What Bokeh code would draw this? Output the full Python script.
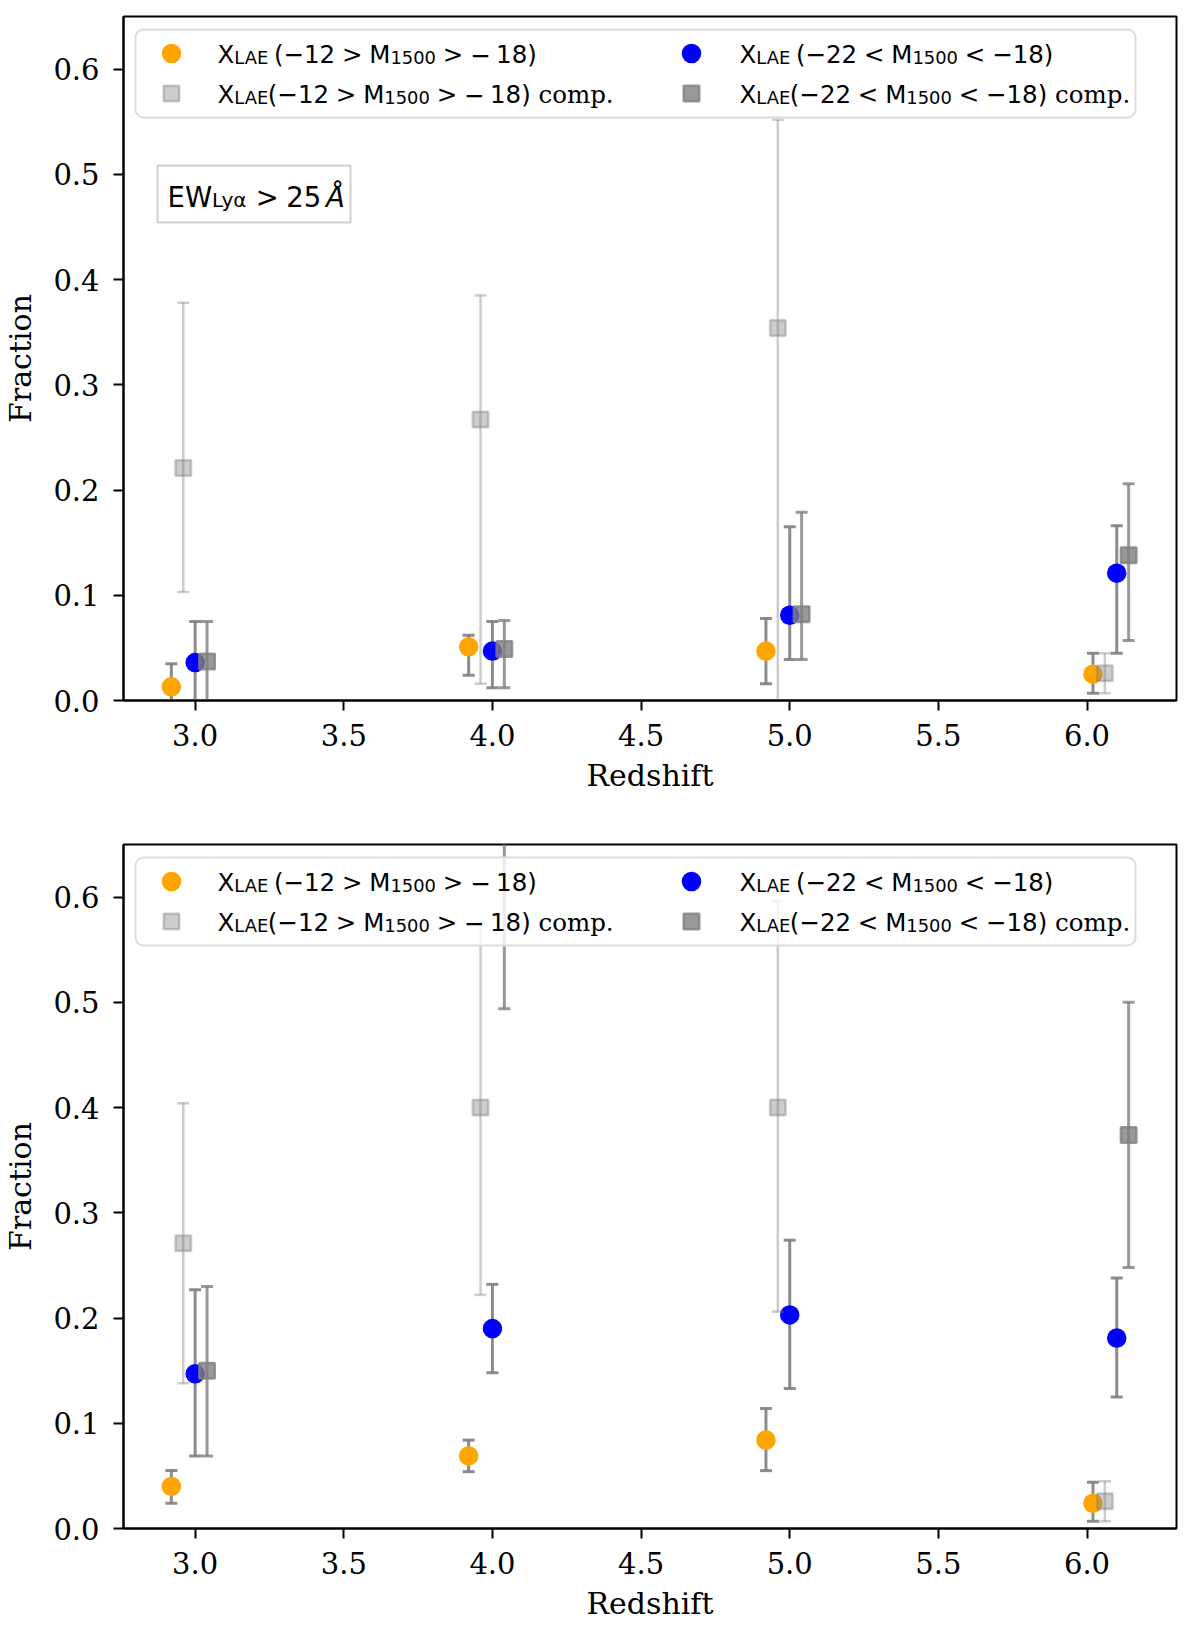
from bokeh.plotting import figure
from bokeh.layouts import column
from bokeh.models import FixedTicker, NumeralTickFormatter
from bokeh.core.properties import value
from bokeh.embed import file_html
from bokeh.resources import INLINE

# ---------------- data ----------------
x_ticks = [3.0, 3.5, 4.0, 4.5, 5.0, 5.5, 6.0]
y_ticks = [0.0, 0.1, 0.2, 0.3, 0.4, 0.5, 0.6]

# redshift positions (slightly offset per series)
z_faint = [2.92, 3.92, 4.92, 6.02]
z_faint_comp = [2.96, 3.96, 4.96, 6.06]
z_bright = [3.00, 4.00, 5.00, 6.10]
z_bright_comp = [3.04, 4.04, 5.04, 6.14]

# top panel (EW > 25 A)
top_faint = [0.013, 0.051, 0.047, 0.025]
top_faint_lo = [0.000, 0.024, 0.016, 0.007]
top_faint_hi = [0.035, 0.062, 0.078, 0.045]
top_bright = [0.036, 0.047, 0.081, 0.121]
top_bright_lo = [0.000, 0.012, 0.039, 0.045]
top_bright_hi = [0.075, 0.075, 0.165, 0.166]
top_faint_comp = [0.221, 0.267, 0.354, 0.026]
top_faint_comp_lo = [0.103, 0.016, 0.000, 0.007]
top_faint_comp_hi = [0.378, 0.385, 0.552, 0.045]
top_bright_comp = [0.037, 0.049, 0.082, 0.138]
top_bright_comp_lo = [0.000, 0.012, 0.039, 0.057]
top_bright_comp_hi = [0.075, 0.076, 0.179, 0.206]

# bottom panel
bot_faint = [0.040, 0.069, 0.084, 0.024]
bot_faint_lo = [0.024, 0.054, 0.055, 0.007]
bot_faint_hi = [0.055, 0.084, 0.114, 0.044]
bot_bright = [0.147, 0.190, 0.203, 0.181]
bot_bright_lo = [0.069, 0.148, 0.133, 0.125]
bot_bright_hi = [0.227, 0.232, 0.274, 0.238]
bot_faint_comp = [0.271, 0.400, 0.400, 0.026]
bot_faint_comp_lo = [0.138, 0.222, 0.206, 0.007]
bot_faint_comp_hi = [0.404, 0.576, 0.596, 0.045]
z_bot_bright_comp = [3.04, 4.04, 6.14]
bot_bright_comp = [0.150, 0.750, 0.374]
bot_bright_comp_lo = [0.069, 0.494, 0.248]
bot_bright_comp_hi = [0.230, 0.980, 0.500]

# legend labels as (kind, text) segments: t=main, s=subscript, g=gap(em), r=serif, i=italic
leg_faint = [("t", "X"), ("s", "LAE"), ("g", 0.25), ("t", "(−12"), ("g", 0.278), ("t", ">"), ("g", 0.278),
             ("t", "M"), ("s", "1500"), ("g", 0.278), ("t", ">"), ("g", 0.278), ("t", "−"), ("g", 0.222), ("t", "18)")]
leg_faint_comp = [("t", "X"), ("s", "LAE"), ("t", "(−12"), ("g", 0.278), ("t", ">"), ("g", 0.278),
                  ("t", "M"), ("s", "1500"), ("g", 0.278), ("t", ">"), ("g", 0.278), ("t", "−"), ("g", 0.222),
                  ("t", "18)"), ("g", 0.318), ("r", "comp.")]
leg_bright = [("t", "X"), ("s", "LAE"), ("g", 0.25), ("t", "(−22"), ("g", 0.278), ("t", "<"), ("g", 0.278),
              ("t", "M"), ("s", "1500"), ("g", 0.278), ("t", "<"), ("g", 0.278), ("t", "−18)")]
leg_bright_comp = [("t", "X"), ("s", "LAE"), ("t", "(−22"), ("g", 0.278), ("t", "<"), ("g", 0.278),
                   ("t", "M"), ("s", "1500"), ("g", 0.278), ("t", "<"), ("g", 0.278), ("t", "−18)"),
                   ("g", 0.318), ("r", "comp.")]
ew_label = [("t", "EW"), ("s", "Lyα"), ("g", 0.278), ("t", ">"), ("g", 0.278), ("t", "25"), ("g", 0.167),
            ("i", "Å")]

# ---------------- layout ----------------
FW, FH = 1053, 684
X0, X1 = 2.759, 6.301
Y0, Y1 = 0.0, 0.65


def fx(px):
    return X0 + px / FW * (X1 - X0)


def fy(py):
    return Y1 - py / FH * (Y1 - Y0)


SANS = {" ": .318, "(": .390, ")": .390, ".": .318, "<": .838, ">": .838, "−": .838,
        "A": .684, "E": .632, "L": .557, "M": .863, "W": .989, "X": .686, "y": .592, "α": .640, "Å": .684}
for d in "0123456789":
    SANS[d] = .636
SERIF = {" ": .318, "c": .560, "o": .602, "m": .948, "p": .640, ".": .318}


def rich(p, x0, base, segs, fs):
    x = x0
    for kind, s in segs:
        if kind == "g":
            x += s * fs
            continue
        font, style, size, b, tab = "DejaVu Sans", "normal", fs, base, SANS
        if kind == "s":
            size = fs * 0.73
            b = base + 0.13 * fs
        elif kind == "r":
            font, tab = "DejaVu Serif", SERIF
        elif kind == "i":
            style = "italic"
        p.text(x=[fx(x)], y=[fy(b)], text=[s], text_font=value(font),
               text_font_size=value("%.1fpx" % size), text_font_style=value(style),
               text_color="black", text_align="left", text_baseline="alphabetic")
        x += sum(tab.get(ch, .6) for ch in s) * size


def box(p, l, r, t, b, line_color, radius):
    kw = dict(left=fx(l), right=fx(r), top=fy(t), bottom=fy(b), fill_color="white",
              fill_alpha=0.8, line_color=line_color, line_width=2)
    try:
        p.quad(border_radius=radius, **kw)
    except Exception:
        p.quad(**kw)


def series(p, z, v, lo, hi, marker, color, size, alpha, bar_alpha, bar_w, line_w):
    p.segment(x0=z, y0=lo, x1=z, y1=hi, line_color="grey", line_alpha=bar_alpha, line_width=bar_w)
    for ends in (lo, hi):
        p.scatter(x=z, y=ends, marker="dash", size=12, line_color="grey",
                  line_alpha=bar_alpha, line_width=bar_w)
    p.scatter(x=z, y=v, marker=marker, size=size, fill_color=color, fill_alpha=alpha,
              line_color=color if line_w else None, line_alpha=alpha, line_width=line_w)


STY_FAINT = dict(marker="circle", color="orange", size=19.5, alpha=1.0, bar_alpha=0.9, bar_w=3, line_w=0)
STY_BRIGHT = dict(marker="circle", color="blue", size=19.5, alpha=1.0, bar_alpha=0.9, bar_w=3, line_w=0)
STY_FCOMP = dict(marker="square", color="grey", size=15.5, alpha=0.4, bar_alpha=0.4, bar_w=2.5, line_w=2.5)
STY_BCOMP = dict(marker="square", color="grey", size=15.5, alpha=0.8, bar_alpha=0.8, bar_w=3, line_w=2.5)


def panel(data, top_b, bot_b, show_ew):
    p = figure(frame_width=FW, frame_height=FH, x_range=(X0, X1), y_range=(Y0, Y1),
               min_border_left=119, min_border_right=12, min_border_top=top_b,
               min_border_bottom=bot_b, output_backend="svg", toolbar_location=None)
    p.grid.visible = False
    p.outline_line_color = "black"
    p.outline_line_width = 2
    p.outline_line_alpha = 1.0
    p.xaxis.ticker = FixedTicker(ticks=x_ticks)
    p.yaxis.ticker = FixedTicker(ticks=y_ticks)
    p.axis.formatter = NumeralTickFormatter(format="0.0")
    p.axis.major_tick_out = 10
    p.axis.major_tick_in = 0
    p.axis.major_tick_line_width = 2
    p.axis.major_tick_line_color = "black"
    p.axis.minor_tick_line_color = None
    p.axis.axis_line_width = 2
    p.axis.axis_line_color = "black"
    p.axis.major_label_text_font = "DejaVu Serif"
    p.axis.major_label_text_font_size = "29px"
    p.axis.major_label_text_color = "black"
    p.axis.axis_label_text_font = "DejaVu Serif"
    p.axis.axis_label_text_font_size = "30px"
    p.axis.axis_label_text_font_style = "normal"
    p.axis.axis_label_text_color = "black"
    p.xaxis.axis_label = "Redshift"
    p.yaxis.axis_label = "Fraction"
    p.xaxis.major_label_standoff = 13
    p.yaxis.major_label_standoff = 14
    p.xaxis.axis_label_standoff = 9
    p.yaxis.axis_label_standoff = 12

    for args, sty in data:
        series(p, *args, **sty)

    # legend
    box(p, 12, 1012, 13, 101, "#dcdcdc", 8)
    fs = 24.5
    for (mx, my, sty) in ((48, 37, STY_FAINT), (48, 77, STY_FCOMP), (568, 37, STY_BRIGHT), (568, 77, STY_BCOMP)):
        p.scatter(x=[fx(mx)], y=[fy(my)], marker=sty["marker"], size=sty["size"],
                  fill_color=sty["color"], fill_alpha=sty["alpha"],
                  line_color=sty["color"] if sty["line_w"] else None,
                  line_alpha=sty["alpha"], line_width=sty["line_w"])
    rich(p, 94, 37 + 1, leg_faint, fs)
    rich(p, 94, 77 + 1, leg_faint_comp, fs)
    rich(p, 616, 37 + 1, leg_bright, fs)
    rich(p, 616, 77 + 1, leg_bright_comp, fs)

    if show_ew:
        box(p, 34, 227, 149, 206, "#cfcfcf", 0)
        rich(p, 44, 180, ew_label, 27.5)
    return p


top_data = [
    ((z_faint, top_faint, top_faint_lo, top_faint_hi), STY_FAINT),
    ((z_bright, top_bright, top_bright_lo, top_bright_hi), STY_BRIGHT),
    ((z_faint_comp, top_faint_comp, top_faint_comp_lo, top_faint_comp_hi), STY_FCOMP),
    ((z_bright_comp, top_bright_comp, top_bright_comp_lo, top_bright_comp_hi), STY_BCOMP),
]
bot_data = [
    ((z_faint, bot_faint, bot_faint_lo, bot_faint_hi), STY_FAINT),
    ((z_bright, bot_bright, bot_bright_lo, bot_bright_hi), STY_BRIGHT),
    ((z_faint_comp, bot_faint_comp, bot_faint_comp_lo, bot_faint_comp_hi), STY_FCOMP),
    ((z_bot_bright_comp, bot_bright_comp, bot_bright_comp_lo, bot_bright_comp_hi), STY_BCOMP),
]

p1 = panel(top_data, 16, 110, True)
p2 = panel(bot_data, 34, 92, False)
layout = column(p1, p2, spacing=0)
open("out.html", "w").write(file_html(layout, INLINE))
